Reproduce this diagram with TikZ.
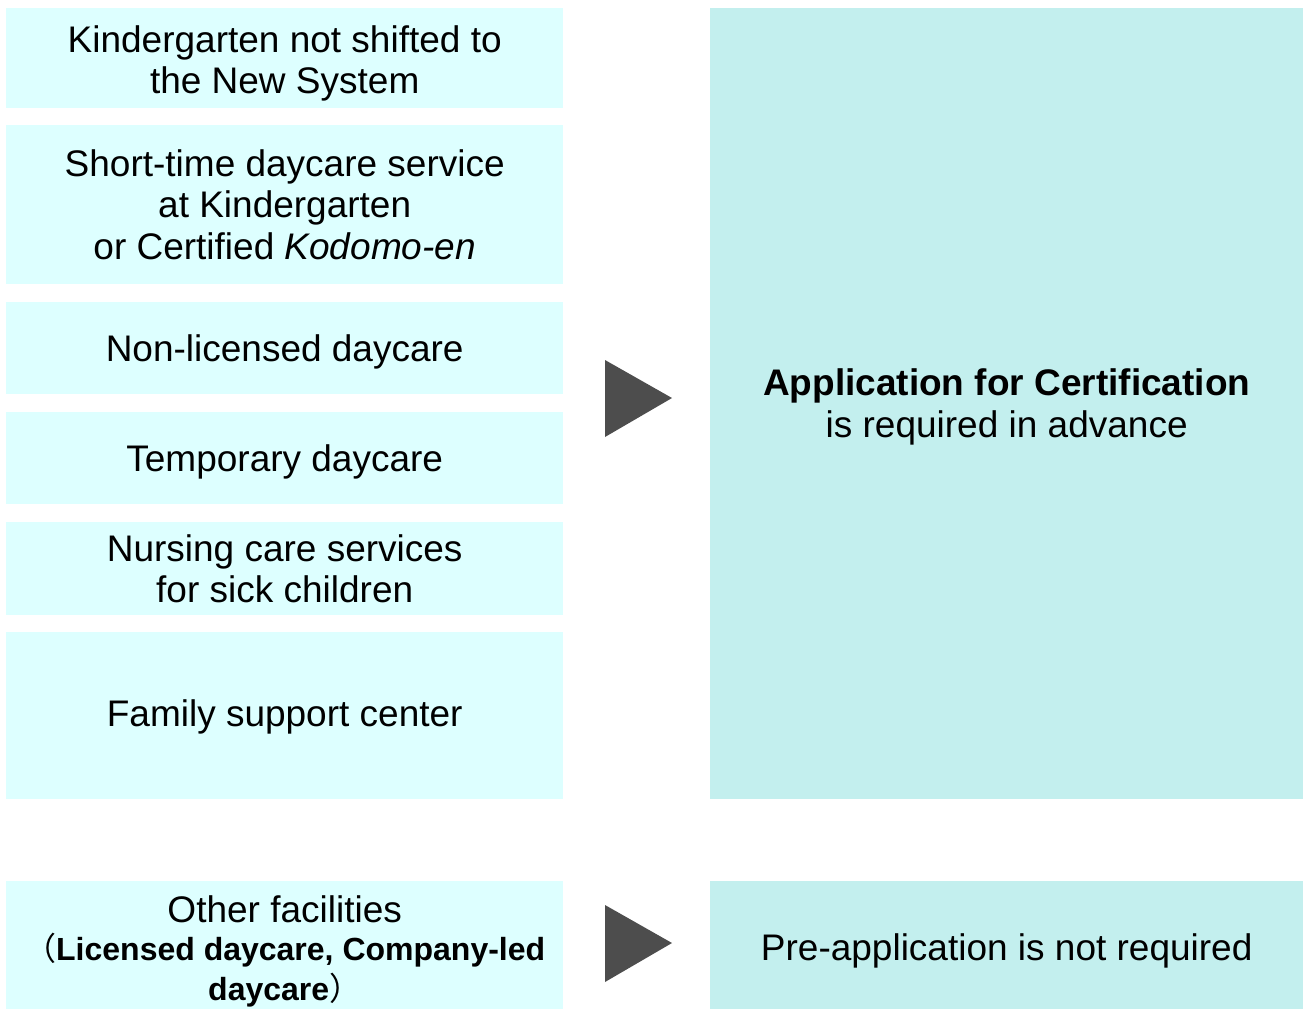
\documentclass[tikz,border=0pt]{standalone}
\usepackage{fontspec}
\setmainfont{Liberation Sans}
\newfontfamily\cjk{Noto Sans CJK JP}
\definecolor{leftfill}{RGB}{221,255,255}
\definecolor{rightfill}{RGB}{195,239,238}
\definecolor{arrowgray}{RGB}{77,77,77}
\newcommand{\smallsize}{\fontsize{32}{38}\selectfont}
\begin{document}
\begin{tikzpicture}[x=1pt,y=-1pt,
  lbox/.style={fill=leftfill, draw=none, anchor=north west, minimum width=557pt, inner sep=0pt},
  rbox/.style={fill=rightfill, draw=none, anchor=north west, minimum width=593pt, inner sep=0pt},
  txt/.style={inner sep=0pt, align=center, font=\fontsize{37}{41.5}\selectfont},
  tri/.style={fill=arrowgray, draw=none}]
\useasboundingbox (0,0) rectangle (1309,1010);
\node[lbox, minimum height=100pt] (k1) at (6,8) {};
\node[lbox, minimum height=159pt] (k2) at (6,125) {};
\node[lbox, minimum height=92pt] (k3) at (6,302) {};
\node[lbox, minimum height=92pt] (k4) at (6,412) {};
\node[lbox, minimum height=93pt] (k5) at (6,522) {};
\node[lbox, minimum height=167pt] (k6) at (6,632) {};
\node[lbox, minimum height=128pt] (k7) at (6,881) {};
\node[rbox, minimum height=791pt] (r1) at (710,8) {};
\node[rbox, minimum height=128pt] (r2) at (710,881) {};
\node[txt] (k1t) at ([yshift=-5pt]k1.center) {Kindergarten not shifted to\\the New System};
\node[txt] (k2t) at (k2.center) {Short-time daycare service\\at Kindergarten\\or Certified \textit{Kodomo-en}};
\node[txt] (k3t) at ([yshift=-4pt]k3.center) {Non-licensed daycare};
\node[txt] (k4t) at ([yshift=-4pt]k4.center) {Temporary daycare};
\node[txt] (k5t) at (k5.center) {Nursing care services\\for sick children};
\node[txt] (k6t) at ([yshift=-1pt]k6.center) {Family support center};
\node[txt] (k7t) at ([yshift=-6pt]k7.center) {Other facilities\\[-3pt]\smallsize\cjk\mdseries （\rmfamily\bfseries Licensed daycare, Company-led\\[-2pt]\smallsize\bfseries daycare\cjk\mdseries ）};
\node[txt] (r1t) at ([yshift=-3pt]r1.center) {\textbf{Application for Certification}\\is required in advance};
\node[txt] (r2t) at ([yshift=-6pt]r2.center) {Pre-application is not required};
\fill[tri] (605,360) -- (672,398) -- (605,437) -- cycle;
\fill[tri] (605,905) -- (672,943) -- (605,982) -- cycle;
\end{tikzpicture}
\end{document}
